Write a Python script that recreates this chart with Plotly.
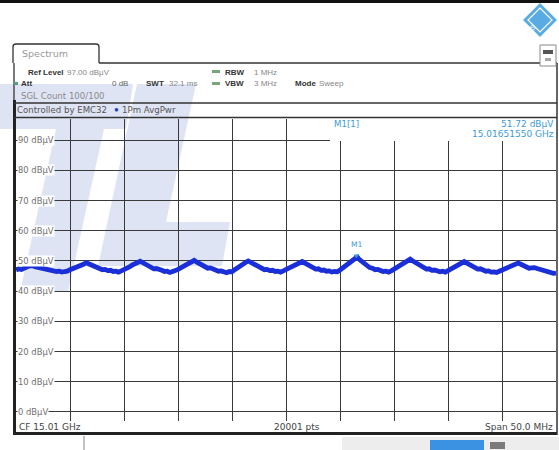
import numpy as np
import plotly.graph_objects as go

# ---- sweep settings -------------------------------------------------------
center_ghz = 15.01
span_mhz = 50.0
ref_level = 97.0
sweep_points = 20001

# level grid and labels
level_ticks = [0, 10, 20, 30, 40, 50, 60, 70, 80, 90]
level_tick_text = [f"{v} dBµV" for v in level_ticks]

# trace levels (dBµV), one reading every 0.25 MHz from -25 MHz to +25 MHz
trace_dbuv = [
    47.0, 47.4, 47.2, 47.8, 48.0, 48.3, 48.5,
    48.1, 47.9, 47.5, 47.6, 47.1, 47.2, 46.8, 46.9, 46.5, 46.6, 46.3, 46.5, 46.6, 47.1, 47.4, 47.9, 48.2, 48.7, 48.9, 49.4,
    49.0, 48.5, 48.1, 47.6, 47.5, 47.1, 47.2, 46.8, 46.9, 46.5, 46.6, 46.3, 46.7, 47.0, 47.6, 48.0, 48.6, 49.0, 49.5, 49.9,
    49.4, 48.9, 48.2, 47.9, 47.4, 47.5, 47.0, 46.9, 46.5, 46.6, 46.2, 46.3, 46.8, 47.2, 47.7, 48.3, 48.7, 49.3, 49.7, 50.2,
    49.6, 49.1, 48.4, 48.0, 47.6, 47.7, 47.2, 47.0, 46.6, 46.7, 46.3, 46.1, 46.5, 46.4, 47.1, 47.8, 48.4, 48.9, 49.5, 50.0,
    49.5, 48.8, 48.3, 47.8, 47.6, 47.1, 47.2, 46.8, 46.9, 46.5, 46.6, 46.3, 46.7, 47.1, 47.6, 48.2, 48.6, 49.1, 49.4, 49.8,
    49.3, 48.7, 48.1, 47.8, 47.3, 47.4, 46.9, 47.0, 46.6, 46.7, 46.3, 46.5, 46.4, 47.0, 47.6, 48.3, 49.0, 49.6, 50.4, 51.1,
    50.6, 49.8, 49.0, 48.4, 47.8, 47.6, 47.1, 47.2, 46.7, 46.5, 46.6, 46.3, 46.7, 47.2, 47.8, 48.4, 49.0, 49.6, 50.1, 50.6,
    50.0, 49.4, 48.7, 48.1, 47.8, 47.3, 47.4, 46.9, 47.0, 46.6, 46.4, 46.6, 46.3, 46.8, 47.3, 47.9, 48.5, 48.9, 49.4, 49.8,
    49.3, 48.7, 48.1, 47.7, 47.3, 47.4, 46.9, 46.6, 46.7, 46.3, 46.4, 46.2, 46.6, 47.0, 47.5, 48.0, 48.4, 48.9, 49.0, 49.3,
    48.9, 48.4, 47.9, 47.6, 47.7, 47.8, 47.5, 47.2, 46.8, 46.5, 46.1, 46.2, 45.9, 46.0,
]

# marker M1
marker_ghz = 15.0165155
marker_dbuv = 51.72

# ---- build trace ------------------------------------------------------------
f_start = center_ghz - span_mhz / 2000.0
f_stop = center_ghz + span_mhz / 2000.0
freq_ghz = np.linspace(f_start, f_stop, len(trace_dbuv))
levels = np.array(trace_dbuv, dtype=float)
idx = int(np.searchsorted(freq_ghz, marker_ghz))
freq_ghz = np.insert(freq_ghz, idx, marker_ghz)
levels = np.insert(levels, idx, marker_dbuv)

# ---- canvas geometry (pixels) -----------------------------------------------
W, H = 559, 450
PL, PR, PT, PB = 16, 556, 119, 421
y_lo = ref_level - 100.0


def px(x):
    return (x - PL) / (PR - PL)


def py(y):
    return (PB - y) / (PB - PT)


fig = go.Figure()
fig.add_trace(go.Scatter(
    x=freq_ghz, y=levels, mode="lines",
    line=dict(color="#1a2fd8", width=4.8),
    hoverinfo="skip", showlegend=False,
))

shapes = []
annotations = []
FONT = "Liberation Sans"
WIDE = "DejaVu Sans"


def rect(x0, y0, x1, y1, fill, line=None, lw=0, layer="above"):
    shapes.append(dict(type="rect", xref="paper", yref="paper",
                       x0=px(x0), x1=px(x1), y0=py(y1), y1=py(y0),
                       fillcolor=fill, line=dict(color=line or fill, width=lw),
                       layer=layer))


def hline(x0, x1, y, color="#2b2b2b", w=1.2):
    shapes.append(dict(type="line", xref="paper", yref="paper",
                       x0=px(x0), x1=px(x1), y0=py(y), y1=py(y),
                       line=dict(color=color, width=w)))


def vline(x, y0, y1, color="#2b2b2b", w=1.2):
    shapes.append(dict(type="line", xref="paper", yref="paper",
                       x0=px(x), x1=px(x), y0=py(y0), y1=py(y1),
                       line=dict(color=color, width=w)))


def poly(points, fill, layer="below", line_color=None, lw=0):
    d = "M " + " L ".join(f"{px(a):.5f},{py(b):.5f}" for a, b in points) + " Z"
    shapes.append(dict(type="path", xref="paper", yref="paper", path=d,
                       fillcolor=fill, line=dict(color=line_color or fill, width=lw),
                       layer=layer))


def text(x, y, s, size=8, color="#555", anchor="left", bold=False, bg=None, family=FONT):
    annotations.append(dict(
        xref="paper", yref="paper", x=px(x), y=py(y),
        text=f"<b>{s}</b>" if bold else s, showarrow=False,
        xanchor=anchor, yanchor="middle",
        font=dict(family=family, size=size, color=color),
        bgcolor=bg, borderpad=0,
    ))


# watermark lettering behind the grid
wm = "rgba(150,165,220,0.30)"
poly([(0, 84), (133, 84), (126, 129), (0, 129)], wm)
poly([(56, 129), (104, 129), (68, 292), (20, 292)], wm)
poly([(137, 84), (196, 84), (166, 222), (230, 222), (222, 266), (98, 266)], wm)

# marker info area clears the grid
rect(330, PT - 1, PR, 141, "white", layer="above")
# top black rule
rect(0, 0, W, 3, "#111")

# instrument frame
rect(13, 100, 16, 435, "#222")
rect(13, 432, 557, 435, "#222")
vline(557, 63, 435, "#333", 1.5)
hline(99, 557, 63, "#333", 1.3)
vline(14, 63, 100, "#333", 1.3)
hline(14, 557, 103, "#333", 1.3)
hline(14, 557, 117.5, "#333", 1.3)

# Spectrum tab
tab = (f"M {px(13)},{py(63)} L {px(13)},{py(47)} Q {px(13)},{py(44)} {px(16)},{py(44)} "
       f"L {px(96)},{py(44)} Q {px(99)},{py(44)} {px(99)},{py(47)} L {px(99)},{py(63)}")
shapes.append(dict(type="path", xref="paper", yref="paper", path=tab,
                   line=dict(color="#333", width=1.3)))
text(21, 54, "Spectrum", 9.5, "#999", family=WIDE)

# header settings
text(27, 72, "Ref Level", 8, "#333", bold=True)
text(66, 72, f"{ref_level:.2f} dBµV", 8, "#888")
rect(212, 70, 220, 73, "#7aa57a")
text(224, 72, "RBW", 8, "#333", bold=True)
text(253, 72, "1 MHz", 8, "#888")

rect(14, 82, 18, 85, "#5a9a8a")
text(20, 84, "Att", 8, "#333", bold=True)
text(129, 84, "0 dB", 8, "#666", anchor="right")
text(145, 84, "SWT", 8, "#333", bold=True)
text(168, 84, "32.1 ms", 8, "#888")
rect(212, 82, 220, 85, "#7aa57a")
text(224, 84, "VBW", 8, "#333", bold=True)
text(253, 84, "3 MHz", 8, "#888")
text(294, 84, "Mode", 8, "#333", bold=True)
text(318, 84, "Sweep", 8, "#888")

text(20, 96, "SGL Count 100/100", 8.6, "#8a8a8a", family=WIDE)
text(16, 110, "Controlled by EMC32", 8.6, "#555", family=WIDE)
text(113, 110, "●", 8, "#2a3fbf")
text(121, 110, "1Pm AvgPwr", 8.6, "#555", family=WIDE)

# level labels on the grid
for v, lab in zip(level_ticks, level_tick_text):
    yy = PB - (v - y_lo) * (PB - PT) / 100.0
    text(17, yy, lab, 8.4, "#707070", bg="white", family=WIDE)

# marker readout
m_color = "#3d9ad8"
text(333, 124, "M1[1]", 8.6, m_color, family=WIDE)
text(555, 124, f"{marker_dbuv:.2f} dBµV", 9, m_color, anchor="right", family=WIDE)
text(555, 134, f"{marker_ghz:.8f} GHz", 9, m_color, anchor="right", family=WIDE)
annotations.append(dict(x=marker_ghz, y=marker_dbuv, xref="x", yref="y",
                        text="M1", showarrow=False, yshift=11,
                        font=dict(family=WIDE, size=7.5, color=m_color)))
fig.add_trace(go.Scatter(x=[marker_ghz], y=[marker_dbuv], mode="markers",
                         marker=dict(symbol="triangle-down", size=5, color=m_color),
                         hoverinfo="skip", showlegend=False))

# footer info bar
text(18, 427, f"CF {center_ghz:.2f} GHz", 9, "#444", family=WIDE)
text(297, 427, f"{sweep_points} pts", 9, "#444", anchor="center", family=WIDE)
text(554, 427, f"Span {span_mhz:.1f} MHz", 9, "#444", anchor="right", family=WIDE)

# status strip beneath the frame
rect(342, 437, 559, 450, "#ededed")
vline(84, 436, 450, "#999", 1.2)
rect(430, 440, 484, 450, "#3b92e2")
rect(490, 442, 505, 449, "#7a7a7a")

# brand diamond and side icon
cx, cy, r = 540, 20, 17
poly([(cx, cy - r), (cx + r, cy), (cx, cy + r), (cx - r, cy)], "#58ace3", layer="above")
poly([(cx, cy - r + 5), (cx + r - 5, cy), (cx, cy + r - 5), (cx - r + 5, cy)],
     "rgba(255,255,255,0)", layer="above", line_color="white", lw=1.2)
annotations.append(dict(xref="paper", yref="paper", x=px(cx), y=py(cy), text="R&S",
                        showarrow=False, textangle=-45,
                        font=dict(family=FONT, size=7, color="white")))
rect(540, 45, 556, 66, "white", line="#888", lw=1)
rect(543, 50, 553, 54, "#555")
rect(545, 58, 551, 61, "#aaa")

fig.update_layout(
    width=W, height=H,
    margin=dict(l=PL, r=W - PR, t=PT, b=H - PB),
    paper_bgcolor="white", plot_bgcolor="rgba(0,0,0,0)",
    showlegend=False, shapes=shapes, annotations=annotations,
    xaxis=dict(range=[f_start, f_stop],
               tickvals=list(np.linspace(f_start, f_stop, 11)),
               showticklabels=False, ticks="", showgrid=True,
               gridcolor="#3a3a3a", gridwidth=1.2, zeroline=False, showline=False),
    yaxis=dict(range=[y_lo, ref_level], tickvals=level_ticks,
               showticklabels=False, ticks="", showgrid=True,
               gridcolor="#3a3a3a", gridwidth=1.2, zeroline=False, showline=False),
)

fig.write_html("out.html")
